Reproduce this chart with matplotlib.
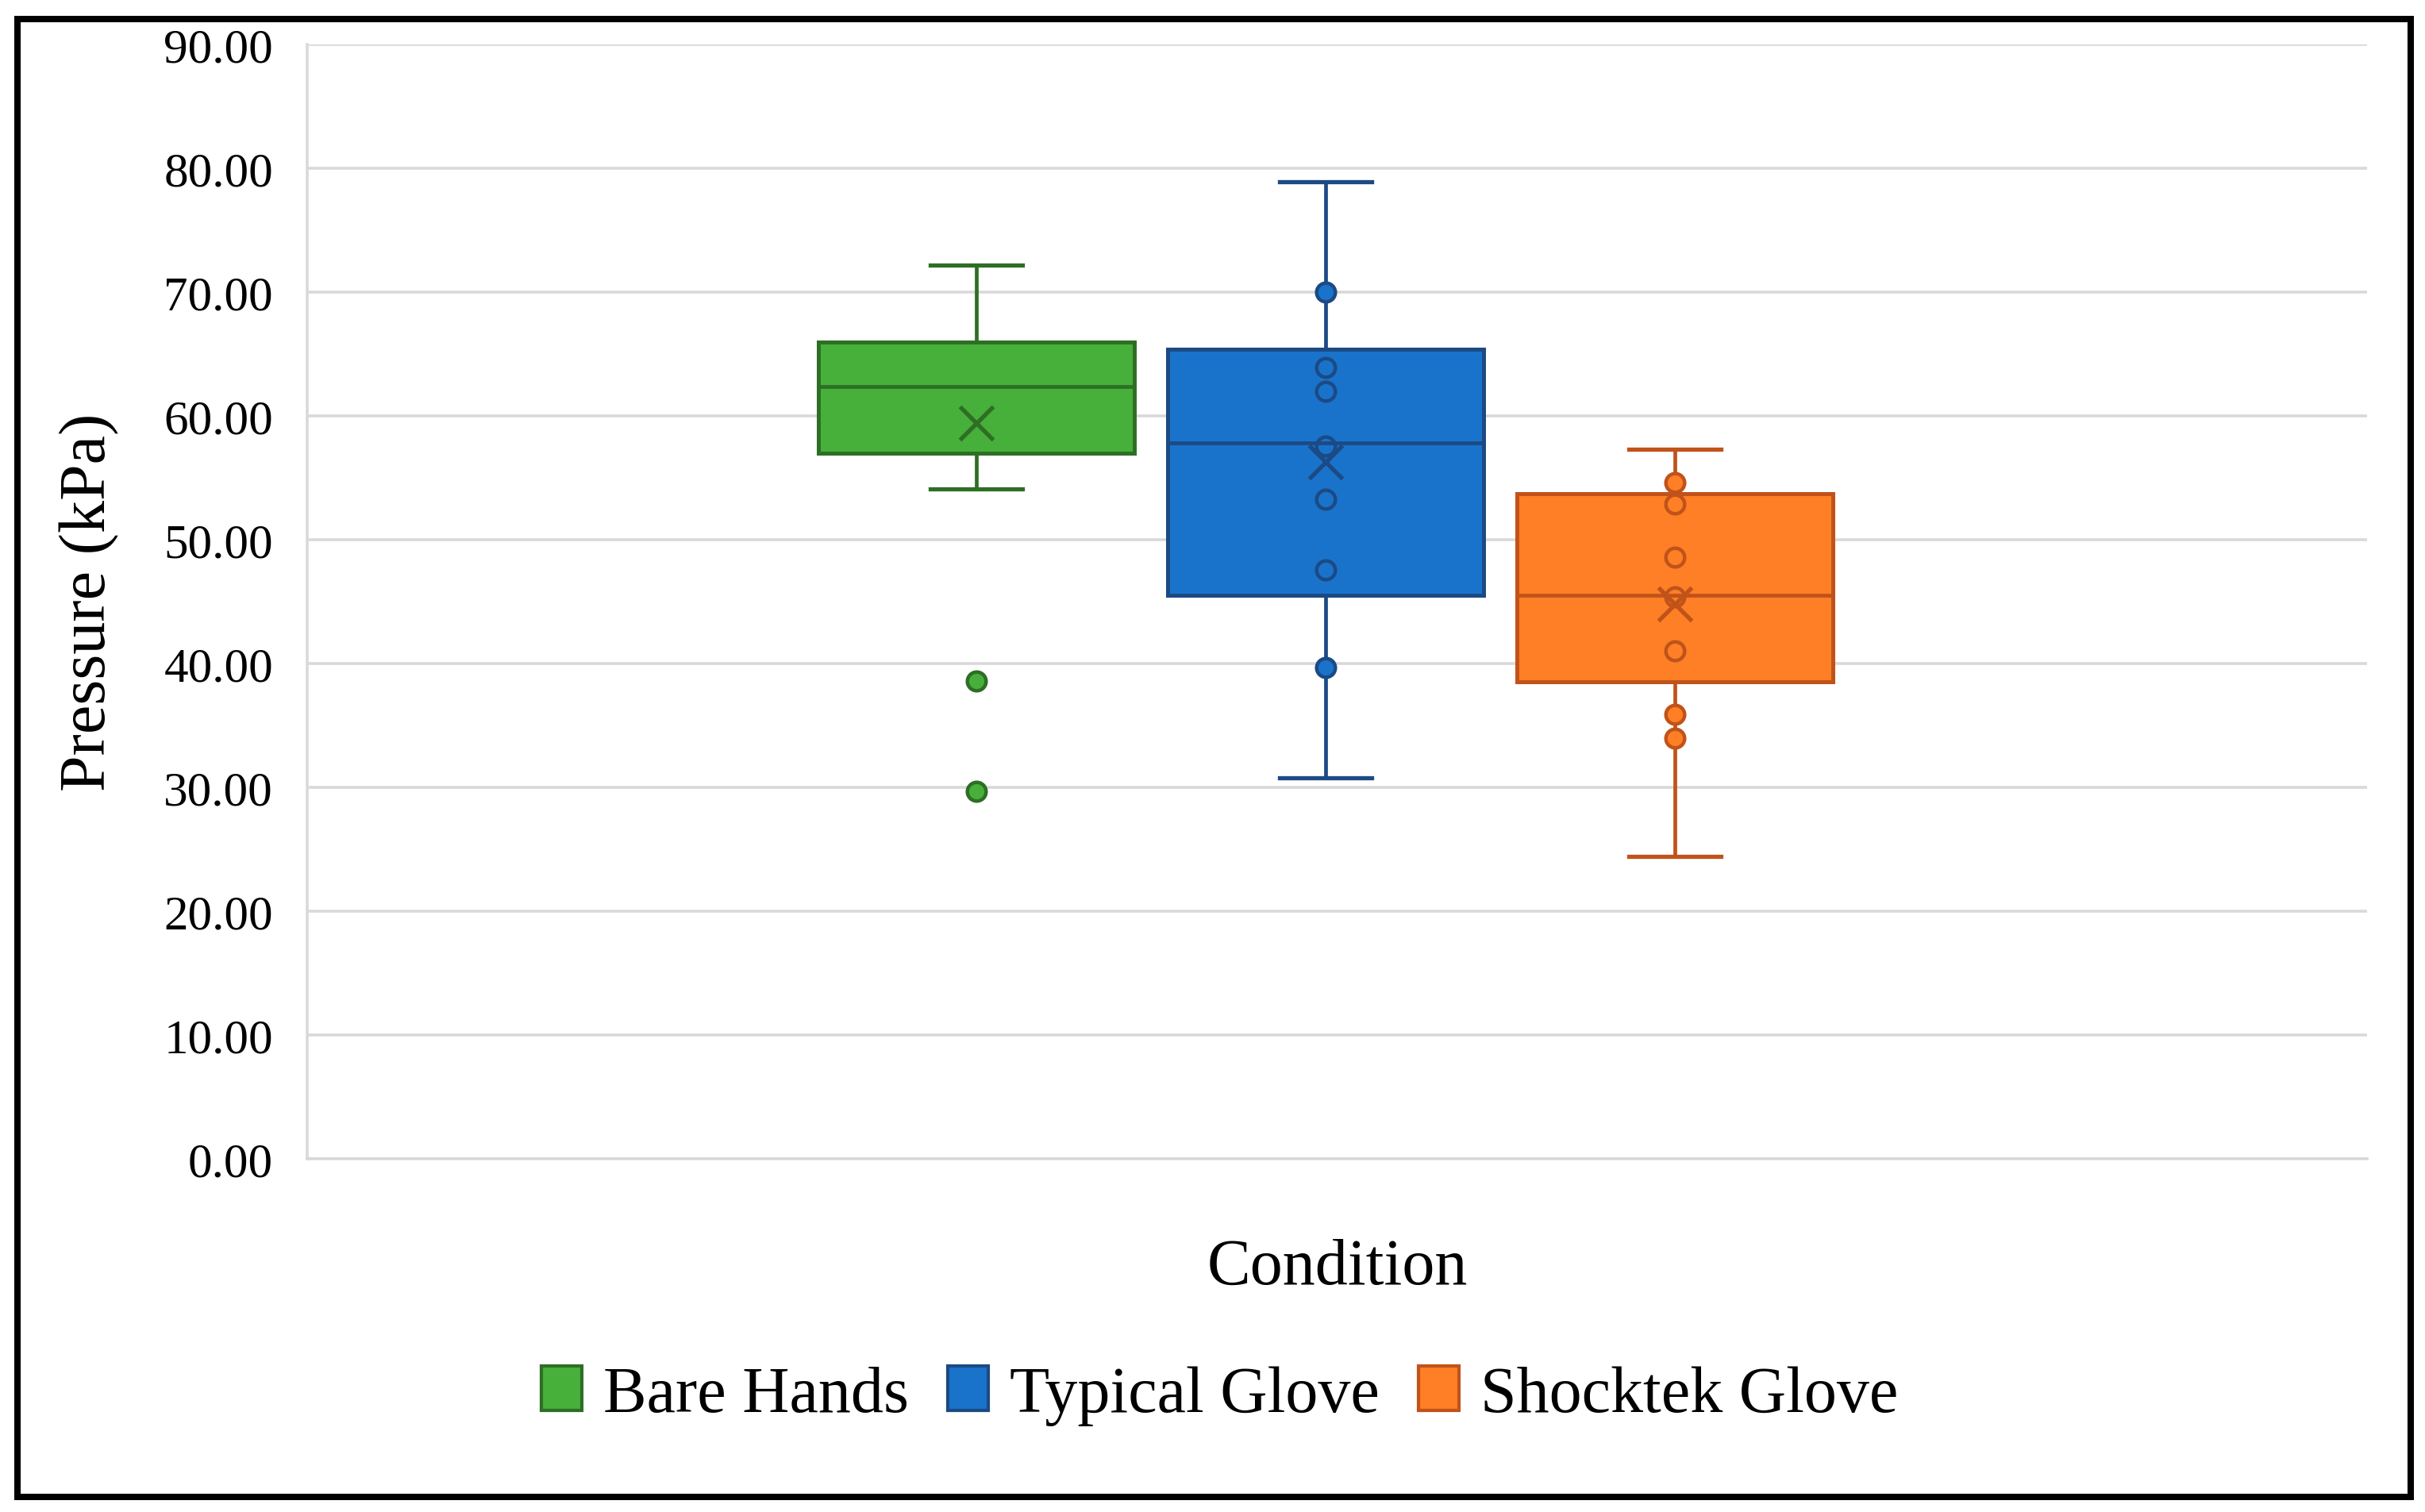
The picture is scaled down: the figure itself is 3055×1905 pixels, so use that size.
import matplotlib.pyplot as plt
from matplotlib.patches import Patch, Rectangle

plt.rcParams['font.family'] = ['Liberation Serif', 'DejaVu Serif']

# data (kPa)
conditions = ["Bare Hands", "Typical Glove", "Shocktek Glove"]
whis_hi = [72.2, 78.9, 57.3]
q3 = [66.0, 65.4, 53.7]
median = [62.4, 57.8, 45.5]
mean = [59.4, 56.3, 44.8]
q1 = [57.0, 45.5, 38.5]
whis_lo = [54.1, 30.8, 24.4]
bare_points = [38.6, 29.7]
typical_points = [70.0, 63.9, 62.0, 57.6, 53.3, 47.6, 39.7]
shocktek_points = [54.6, 52.9, 48.6, 45.4, 41.0, 35.9, 34.0]
points = [bare_points, typical_points, shocktek_points]

fills = ["#46B03A", "#1A73CA", "#FE7F25"]
edges = ["#2E6E25", "#1B4A85", "#C0531A"]
yticks = [0, 10, 20, 30, 40, 50, 60, 70, 80, 90]

fig = plt.figure(figsize=(15.275, 9.53), dpi=200)
ax = fig.add_axes([0.1267, 0.2335, 0.8493, 0.7365])

for i in range(len(conditions)):
    stats = [dict(label=conditions[i], whislo=whis_lo[i], q1=q1[i], med=median[i],
                  q3=q3[i], whishi=whis_hi[i], mean=mean[i], fliers=points[i])]
    ax.bxp(stats, positions=[i + 1], widths=0.905, capwidths=0.264,
           patch_artist=True, showmeans=True, manage_ticks=False,
           boxprops=dict(facecolor=fills[i], edgecolor=edges[i], linewidth=1.8),
           whiskerprops=dict(color=edges[i], linewidth=1.7),
           capprops=dict(color=edges[i], linewidth=1.9),
           medianprops=dict(color=edges[i], linewidth=1.7),
           meanprops=dict(marker='x', markersize=15, markeredgecolor=edges[i],
                          markeredgewidth=1.9),
           flierprops=dict(marker='o', markersize=8.5, markerfacecolor=fills[i],
                           markeredgecolor=edges[i], markeredgewidth=1.6))

ax.set_xlim(-0.916, 4.98)
ax.set_ylim(0, 90)
ax.set_yticks(yticks)
ax.set_yticklabels([f"{v:.2f}" for v in yticks], fontsize=22)
ax.set_xticks([])
ax.tick_params(axis='y', length=0, pad=15.5)
ax.grid(axis='y', color='#D9D9D9', linewidth=1.3)
ax.set_axisbelow(True)
for s in ['top', 'right']:
    ax.spines[s].set_visible(False)
ax.spines['left'].set_color('#D9D9D9')
ax.spines['left'].set_linewidth(1.3)
ax.spines['bottom'].set_color('#D9D9D9')
ax.spines['bottom'].set_linewidth(1.3)

fig.text(0.037, 0.6018, "Pressure (kPa)", rotation=90, fontsize=29.5,
         ha='center', va='center')
fig.text(0.5515, 0.1617, "Condition", fontsize=29.5, ha='center', va='center')

handles = [Patch(facecolor=fills[i], edgecolor=edges[i], linewidth=1.5)
           for i in range(len(conditions))]
fig.legend(handles, conditions, loc='center', bbox_to_anchor=(0.503, 0.077),
           ncol=3, frameon=False, fontsize=29.5, handlelength=0.62,
           handleheight=0.68, handletextpad=0.33, columnspacing=0.6)

fig.patches.append(Rectangle((0.0072, 0.010), 0.9869, 0.977, transform=fig.transFigure,
                             fill=False, edgecolor='black', linewidth=2.9))

fig.savefig("out.png", dpi=200, facecolor='white')
